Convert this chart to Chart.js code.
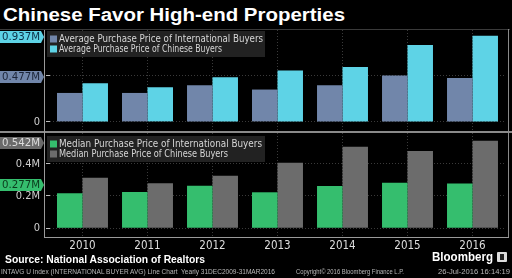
<!DOCTYPE html>
<html><head><meta charset="utf-8">
<script src="https://cdn.jsdelivr.net/npm/chart.js@4/dist/chart.umd.min.js"></script>
<style>
html,body{margin:0;padding:0;background:#000;width:512px;height:278px;overflow:hidden;}
body{position:relative;}
.t{position:absolute;white-space:nowrap;transform-origin:0 0;}
#title{left:3px;top:6px;color:#fff;font:bold 18px/18px "Liberation Sans",sans-serif;}
#src{left:5px;top:254px;color:#fff;font:bold 10.5px/11px "Liberation Sans",sans-serif;}
#bb{left:432px;top:251px;color:#fff;font:bold 12.5px/13px "Liberation Sans",sans-serif;}
.f{top:268px;color:#b8b8b8;font:6.5px/7px "Liberation Sans",sans-serif;}
canvas{position:absolute;left:0;}
#c1{top:29px;}
#c2{top:133px;}
.ln{position:absolute;background:#8a8a8a;}
#icon{position:absolute;left:497px;top:252px;width:10px;height:10px;background:#dcdcdc;border-radius:1px;}
#icon div{position:absolute;left:3px;top:2px;width:4px;height:6px;background:#222;}
</style></head>
<body>
<div id="title" class="t" data-w="342">Chinese Favor High-end Properties</div>
<canvas id="c1" width="512" height="103"></canvas>
<canvas id="c2" width="512" height="125"></canvas>
<div class="ln" style="left:0;top:29px;width:510px;height:1px;background:#3a3a3a"></div>
<div class="ln" style="left:0;top:131px;width:512px;height:2px;"></div>
<div class="ln" style="left:44px;top:30px;width:1px;height:208px;background:#9a9a9a"></div>
<div class="ln" style="left:508px;top:29px;width:1px;height:209px;"></div>
<div class="ln" style="left:44px;top:237px;width:465px;height:1px;background:#9a9a9a"></div>
<div id="src" class="t" data-w="200">Source: National Association of Realtors</div>
<div id="bb" class="t" data-w="61">Bloomberg</div>
<div id="icon"><div></div></div>
<div class="t f" style="left:1px" data-w="274">INTAVG U Index (INTERNATIONAL BUYER AVG) Line Chart&nbsp; Yearly 31DEC2009-31MAR2016</div>
<div class="t f" style="left:296px" data-w="108">Copyright© 2016 Bloomberg Finance L.P.</div>
<div class="t f" style="left:438px" data-w="72">26-Jul-2016 16:14:19</div>
<script>
// ---- data ----
const years = ['2010','2011','2012','2013','2014','2015','2016'];
const avgIntl    = [0.315, 0.315, 0.400, 0.352, 0.400, 0.505, 0.477];
const avgChinese = [0.420, 0.377, 0.487, 0.560, 0.597, 0.838, 0.937];
const medIntl    = [0.217, 0.225, 0.264, 0.223, 0.262, 0.282, 0.277];
const medChinese = [0.313, 0.279, 0.326, 0.406, 0.505, 0.479, 0.542];
const topTicks = [0, 0.5];
const topTickLabels = ['0', ''];
const bottomTicks = [0, 0.2, 0.4];
const bottomTickLabels = ['0', '0.2M', '0.4M'];

// ---- text fitting ----
document.querySelectorAll('.t[data-w]').forEach(el=>{
  const w = el.getBoundingClientRect().width;
  el.style.transform = 'scaleX(' + (parseFloat(el.dataset.w)/w) + ')';
});

const NARROW = '"Liberation Sans Narrow","DejaVu Sans Condensed",sans-serif';
const C_INTL_AVG = '#7186aa', C_CHN_AVG = '#5ed3e6', C_INTL_MED = '#35be6e', C_CHN_MED = '#6c6c6c';

const tagPlugin = {
  id: 'tags',
  afterDraw(chart, args, opts) {
    const ctx = chart.ctx, y = chart.scales.y;
    (opts.items || []).forEach(t => {
      const py = Math.round(y.getPixelForValue(t.value)) + (t.dy || 0);
      const h = 12;
      ctx.save();
      ctx.fillStyle = t.bg;
      ctx.beginPath();
      ctx.moveTo(0, py - h/2); ctx.lineTo(41, py - h/2); ctx.lineTo(44, py);
      ctx.lineTo(41, py + h/2); ctx.lineTo(0, py + h/2); ctx.closePath(); ctx.fill();
      ctx.fillStyle = t.fg;
      ctx.font = '11px ' + NARROW;
      ctx.textBaseline = 'middle'; ctx.textAlign = 'left';
      const txt = t.value.toFixed(3) + 'M';
      const w = ctx.measureText(txt).width;
      ctx.translate(2, py + 0.5);
      ctx.scale(38 / w, 1);
      ctx.fillText(txt, 0, 0);
      ctx.restore();
    });
  }
};

const legendPlugin = {
  id: 'boxLegend',
  afterDatasetsDraw(chart, args, opts) {
    const ctx = chart.ctx, a = chart.chartArea;
    const x0 = 47, y0 = a.top + (opts.dy || 2);
    ctx.save();
    ctx.fillStyle = 'rgba(38,38,38,0.9)';
    ctx.fillRect(x0, y0, 218, 26);
    ctx.font = '10.5px ' + NARROW;
    ctx.textBaseline = 'middle';
    chart.data.datasets.forEach((ds, i) => {
      const cy = y0 + 8 + i * 10;
      ctx.fillStyle = ds.backgroundColor;
      ctx.fillRect(x0 + 3, cy - 3.5, 7, 7);
      ctx.fillStyle = '#d6d6d6';
      const w = ctx.measureText(ds.label).width;
      ctx.save();
      ctx.translate(x0 + 12, cy + 0.5);
      ctx.scale((opts.widths[i]) / w, 1);
      ctx.fillText(ds.label, 0, 0);
      ctx.restore();
    });
    ctx.restore();
  }
};

function yScale(min, max, ticks, labels) {
  return {
    min, max,
    afterBuildTicks(s) { s.ticks = ticks.map(v => ({ value: v })); },
    afterFit(s) { s.width = 50; s.paddingTop = 0; s.paddingBottom = 0; },
    border: { display: false, dash: [1, 2] },
    grid: { color: '#3a3a3a', tickColor: '#bdbdbd', tickLength: 4, tickBorderDash: [], lineWidth: 1 },
    ticks: {
      color: '#cfcfcf', padding: 6,
      font: { size: 11, family: NARROW },
      callback(v) { const i = ticks.indexOf(v); return i >= 0 ? labels[i] : ''; }
    }
  };
}
function xScale(show) {
  return {
    offset: true,
    afterFit(s) { s.height = show ? 20 : 0; s.paddingLeft = 0; s.paddingRight = 0; },
    border: { display: false, dash: [1, 2] },
    grid: { offset: false, color: '#3a3a3a', drawTicks: false },
    ticks: { display: show, color: '#dedede', padding: 1, font: { size: 11.5, family: NARROW } }
  };
}
function baseOpts(extra) {
  return Object.assign({
    responsive: false, animation: false, devicePixelRatio: 1,
    layout: { padding: { left: 0, right: 7, top: 0, bottom: 0 } },
    plugins: { legend: { display: false }, tooltip: { enabled: false } }
  }, extra);
}

new Chart(document.getElementById('c1'), {
  type: 'bar',
  data: { labels: years, datasets: [
    { label: 'Average Purchase Price of International Buyers', data: avgIntl, backgroundColor: C_INTL_AVG, categoryPercentage: 0.784, barPercentage: 1 },
    { label: 'Average Purchase Price of Chinese Buyers', data: avgChinese, backgroundColor: C_CHN_AVG, categoryPercentage: 0.784, barPercentage: 1 }
  ]},
  options: baseOpts({
    layout: { padding: { left: 0, right: 7, top: 1, bottom: 0 } },
    scales: { x: xScale(false), y: yScale(-0.11, 1.0, topTicks, topTickLabels) },
    plugins: { legend: { display: false }, tooltip: { enabled: false },
      boxLegend: { dy: 1, widths: [204, 163] },
      tags: { items: [
        { value: avgChinese[6], bg: '#5ed3e6', fg: '#0b2f45', dy: 1 },
        { value: avgIntl[6], bg: '#7186aa', fg: '#1b2438', dy: -1 }
      ]}
    }
  }),
  plugins: [legendPlugin, tagPlugin]
});

new Chart(document.getElementById('c2'), {
  type: 'bar',
  data: { labels: years, datasets: [
    { label: 'Median Purchase Price of International Buyers', data: medIntl, backgroundColor: C_INTL_MED, categoryPercentage: 0.784, barPercentage: 1 },
    { label: 'Median Purchase Price of Chinese Buyers', data: medChinese, backgroundColor: C_CHN_MED, categoryPercentage: 0.784, barPercentage: 1 }
  ]},
  options: baseOpts({
    scales: { x: xScale(true), y: yScale(-0.06, 0.59, bottomTicks, bottomTickLabels) },
    plugins: { legend: { display: false }, tooltip: { enabled: false },
      boxLegend: { dy: 3, widths: [203, 169] },
      tags: { items: [
        { value: medChinese[6], bg: '#6a6a6a', fg: '#dcdcdc', dy: 2 },
        { value: medIntl[6], bg: '#35be6e', fg: '#0b3a1c', dy: 1 }
      ]}
    }
  }),
  plugins: [legendPlugin, tagPlugin]
});
</script>
</body></html>
